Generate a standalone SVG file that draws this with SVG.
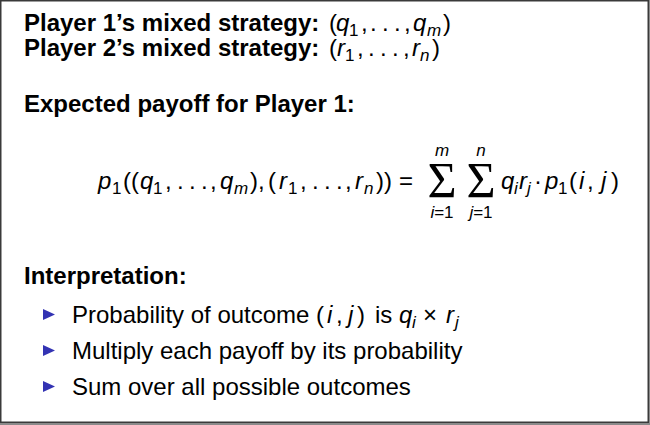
<svg xmlns="http://www.w3.org/2000/svg" width="650" height="425" viewBox="0 0 650 425">
<style>
text{font-family:"Liberation Sans",Arial,Helvetica,sans-serif;fill:#000;font-size:24px}
.h{font-weight:bold}
.i{font-style:italic}
.s{font-size:17px}
.big{font-family:"Liberation Serif","Times New Roman",serif;font-size:50px}
.bul{fill:#3333b3}
</style>
<rect x="0" y="0" width="650" height="425" fill="#8a8a8a"/>
<rect x="0.75" y="0.75" width="647.5" height="421.5" fill="#fff" stroke="#3a3a3a" stroke-width="1.5"/>

<g id="strategies">
<text class="h" x="24" y="31">Player 1’s mixed strategy:</text>
<text x="329" y="31">(</text><text class="i" x="336" y="31">q</text><text class="s" x="349" y="36">1</text><text x="361" y="31">,</text>
<text x="370" y="31">.</text><text x="382" y="31">.</text><text x="394" y="31">.</text><text x="404" y="31">,</text>
<text class="i" x="413" y="31">q</text><text class="i s" x="427" y="36">m</text><text x="443" y="31">)</text>

<text class="h" x="24" y="56">Player 2’s mixed strategy:</text>
<text x="329" y="56">(</text><text class="i" x="337" y="56">r</text><text class="s" x="345" y="61">1</text><text x="357" y="56">,</text>
<text x="368" y="56">.</text><text x="380" y="56">.</text><text x="392" y="56">.</text><text x="403" y="56">,</text>
<text class="i" x="412" y="56">r</text><text class="i s" x="420" y="61">n</text><text x="432" y="56">)</text>
</g>

<g id="expected">
<text class="h" x="24" y="112">Expected payoff for Player 1:</text>
</g>

<g id="formula">
<text class="i" x="98" y="189">p</text><text class="s" x="112" y="194">1</text>
<text x="123" y="189">(</text><text x="131" y="189">(</text>
<text class="i" x="140" y="189">q</text><text class="s" x="153" y="194">1</text><text x="165" y="189">,</text>
<text x="177" y="189">.</text><text x="189" y="189">.</text><text x="201" y="189">.</text><text x="210" y="189">,</text>
<text class="i" x="220" y="189">q</text><text class="i s" x="234" y="194">m</text><text x="250" y="189">)</text><text x="258" y="189">,</text>
<text x="268" y="189">(</text><text class="i" x="279" y="189">r</text><text class="s" x="288" y="194">1</text><text x="300" y="189">,</text>
<text x="312" y="189">.</text><text x="324" y="189">.</text><text x="336" y="189">.</text><text x="345" y="189">,</text>
<text class="i" x="355" y="189">r</text><text class="i s" x="364" y="194">n</text><text x="376" y="189">)</text><text x="384" y="189">)</text>
<text x="399" y="189">=</text>
<text class="big" x="442" y="197" text-anchor="middle">Σ</text>
<text class="i s" x="442" y="156" text-anchor="middle">m</text>
<text class="s" x="442" y="218" text-anchor="middle"><tspan class="i">i</tspan>=1</text>
<text class="big" x="481" y="197" text-anchor="middle">Σ</text>
<text class="i s" x="481" y="156" text-anchor="middle">n</text>
<text class="s" x="481" y="218" text-anchor="middle"><tspan class="i">j</tspan>=1</text>
<text class="i" x="501" y="189">q</text><text class="i s" x="514" y="194">i</text>
<text class="i" x="519" y="189">r</text><text class="i s" x="527" y="194">j</text>
<text x="534" y="189">·</text>
<text class="i" x="545" y="189">p</text><text class="s" x="558" y="194">1</text>
<text x="569" y="189">(</text><text class="i" x="579" y="189">i</text><text x="587" y="189">,</text>
<text class="i" x="601" y="189">j</text><text x="611" y="189">)</text>
</g>

<g id="interpretation">
<text class="h" x="24" y="284">Interpretation:</text>
<polygon class="bul" points="43,309 55,314.5 43,320"/>
<text x="72" y="323">Probability of outcome</text>
<text x="316" y="323">(</text><text class="i" x="327" y="323">i</text><text x="336" y="323">,</text><text class="i" x="348" y="323">j</text><text x="357" y="323">)</text>
<text x="375" y="323">is</text>
<text class="i" x="399" y="323">q</text><text class="i s" x="412" y="328">i</text>
<text x="423" y="323">×</text>
<text class="i" x="446" y="323">r</text><text class="i s" x="455" y="328">j</text>
<polygon class="bul" points="43,345 55,350.5 43,356"/>
<text x="72" y="359">Multiply each payoff by its probability</text>
<polygon class="bul" points="43,381 55,386.5 43,392"/>
<text x="72" y="395">Sum over all possible outcomes</text>
</g>
</svg>
